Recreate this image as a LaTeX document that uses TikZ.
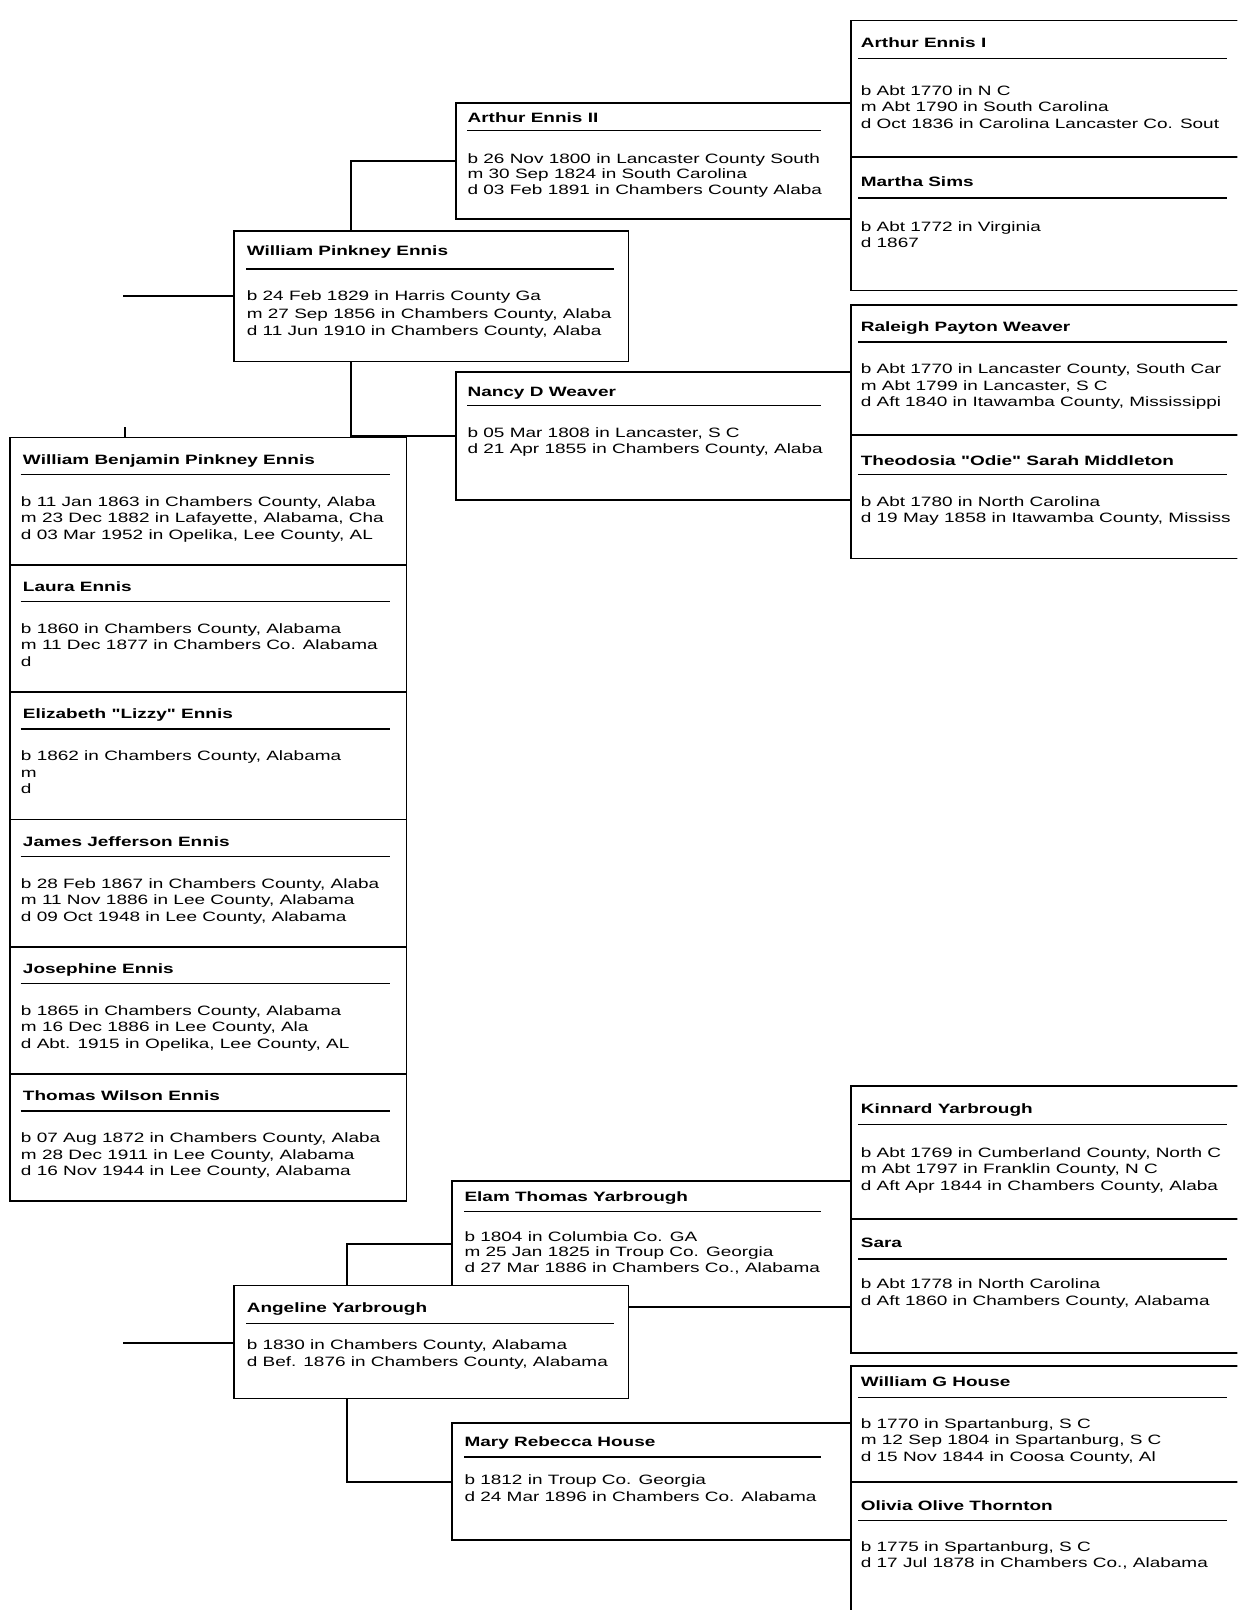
\documentclass[tikz,border=0pt]{standalone}
\usepackage{fontspec}
\setmainfont{Liberation Sans}
\newfontfamily\chartfont[FakeStretch=1.4]{Liberation Sans}
\newcommand{\kidentry}[6]{%
  \node[nm] (#1n) at (22,{#2+26}) {#3};
  \draw[rl] (20,{#2+36}) -- (380,{#2+36});
  \node[tx] (#1b) at (20,{#2+67}) {#4};
  \node[tx] (#1m) at (20,{#2+83}) {#5};
  \node[tx] (#1d) at (20,{#2+99}) {#6};}
\begin{document}
\begin{tikzpicture}[x=0.5pt,y=-0.5pt,
  bl/.style={line width=0.85pt},
  rl/.style={line width=0.75pt},
  nm/.style={font=\chartfont\fontsize{6.6}{8}\selectfont\bfseries, inner sep=0pt, anchor=base west},
  tx/.style={font=\chartfont\fontsize{6.6}{8}\selectfont, inner sep=0pt, anchor=base west},
  frame/.style={inner sep=0pt, outer sep=0pt, anchor=north west, rectangle}]
\useasboundingbox (0,0) rectangle (1205,1568);
\clip (0,0) rectangle (1205,1568);
\fill[white] (0,0) rectangle (1205,1568);

% ---------- box frames ----------
\node[frame, minimum width=192pt, minimum height=63.5pt] (wpe) at (228,225) {};
\node[frame, minimum width=192pt, minimum height=55pt] (ay) at (228,1252) {};
\node[frame, minimum width=193pt, minimum height=372pt] (kids) at (10,426) {};
\node[frame, minimum width=182pt, minimum height=56.5pt] (ae2) at (444,100) {};
\node[frame, minimum width=182pt, minimum height=62.5pt] (nw) at (444,362) {};
\node[frame, minimum width=184pt, minimum height=61.5pt] (ety) at (440,1150) {};
\node[frame, minimum width=184pt, minimum height=57pt] (mrh) at (440,1386) {};
\node[frame, minimum width=200pt, minimum height=66.5pt] (ae1) at (829,20) {};
\node[frame, minimum width=200pt, minimum height=65pt] (ms) at (829,153) {};
\node[frame, minimum width=200pt, minimum height=63.5pt] (rpw) at (829,297) {};
\node[frame, minimum width=200pt, minimum height=60pt] (tom) at (829,424) {};
\node[frame, minimum width=200pt, minimum height=64.5pt] (ky) at (829,1058) {};
\node[frame, minimum width=200pt, minimum height=65.5pt] (sa) at (829,1187) {};
\node[frame, minimum width=200pt, minimum height=56.5pt] (wgh) at (829,1330) {};
\node[frame, minimum width=200pt, minimum height=70pt] (oot) at (829,1443) {};

\draw[bl] (wpe.north west) rectangle (wpe.south east);
\draw[bl] (kids.north west) rectangle (kids.south east);
\foreach \b in {ae2,nw,ety,mrh,ae1,rpw,ky,wgh}
  \draw[bl] (\b.north east) -- (\b.north west) -- (\b.south west) -- (\b.south east);
\foreach \b in {ms,tom,sa,oot}
  \draw[bl] (\b.north west) -- (\b.south west) -- (\b.south east);

% ---------- connectors ----------
\coordinate (r1) at (120,288);
\coordinate (r2) at (120,1308);
\coordinate (t1) at (122,416);
\draw[bl] (r1) -- (r1 -| wpe.west);
\draw[bl] (r2) -- (r2 -| ay.west);
\draw[bl] (t1) -- (t1 |- kids.north);
\draw[bl] ([xshift=57pt]wpe.north west) |- (ae2.west);
\draw[bl] ([xshift=57pt]wpe.south west) |- (nw.west);
\draw[bl] ([xshift=55pt]ay.north west) |- (ety.west);
\draw[bl] ([xshift=55pt]ay.south west) |- (mrh.west);
\draw[bl] (ae2.north east) -- (ae2.north east -| ae1.west);
\draw[bl] (ae2.south east) -- (ae2.south east -| ms.west);
\draw[bl] (nw.north east) -- (nw.north east -| rpw.west);
\draw[bl] (nw.south east) -- (nw.south east -| tom.west);
\draw[bl] (ety.north east) -- (ety.north east -| ky.west);
\draw[bl] (ety.south east) -- (ety.south east -| sa.west);
\draw[bl] (mrh.north east) -- (mrh.north east -| wgh.west);
\draw[bl] (mrh.south east) -- (mrh.south east -| oot.west);

% ---------- William Pinkney Ennis ----------
\begin{scope}
\clip (wpe.north west) rectangle (wpe.south east);
\node[nm] (wpen) at (240,249) {William Pinkney Ennis};
\draw[rl] (240,262) -- (598,262);
\node[tx] (wpeb) at (240,293) {b 24 Feb 1829 in Harris County Ga};
\node[tx] (wpem) at (240,310) {m 27 Sep 1856 in Chambers County, Alaba};
\node[tx] (wped) at (240,327) {d 11 Jun 1910 in Chambers County, Alaba};
\end{scope}

% ---------- generation 2 ----------
\begin{scope}
\clip (ae2.north west) rectangle (ae2.south east);
\node[nm] (ae2n) at (455,119) {Arthur Ennis II};
\draw[rl] (455,127) -- (800,127);
\node[tx] (ae2b) at (455,159) {b 26 Nov 1800 in Lancaster County South};
\node[tx] (ae2m) at (455,174) {m 30 Sep 1824 in South Carolina};
\node[tx] (ae2d) at (455,189) {d 03 Feb 1891 in Chambers County Alaba};
\end{scope}
\begin{scope}
\clip (nw.north west) rectangle (nw.south east);
\node[nm] (nwn) at (455,386) {Nancy D Weaver};
\draw[rl] (455,395) -- (800,395);
\node[tx] (nwb) at (455,426) {b 05 Mar 1808 in Lancaster, S C};
\node[tx] (nwd) at (455,442) {d 21 Apr 1855 in Chambers County, Alaba};
\end{scope}
\begin{scope}
\clip (ety.north west) rectangle (ety.south east);
\node[nm] (etyn) at (452,1170) {Elam Thomas Yarbrough};
\draw[rl] (452,1180) -- (800,1180);
\node[tx] (etyb) at (452,1209) {b 1804 in Columbia Co. GA};
\node[tx] (etym) at (452,1224) {m 25 Jan 1825 in Troup Co. Georgia};
\node[tx] (etyd) at (452,1239) {d 27 Mar 1886 in Chambers Co., Alabama};
\end{scope}
\begin{scope}
\clip (mrh.north west) rectangle (mrh.south east);
\node[nm] (mrhn) at (452,1409) {Mary Rebecca House};
\draw[rl] (452,1419) -- (800,1419);
\node[tx] (mrhb) at (452,1446) {b 1812 in Troup Co. Georgia};
\node[tx] (mrhd) at (452,1462) {d 24 Mar 1896 in Chambers Co. Alabama};
\end{scope}

% ---------- Angeline Yarbrough (drawn over Elam's frame) ----------
\filldraw[bl, fill=white] (ay.north west) rectangle (ay.south east);
\begin{scope}
\clip (ay.north west) rectangle (ay.south east);
\node[nm] (ayn) at (240,1278) {Angeline Yarbrough};
\draw[rl] (240,1289) -- (598,1289);
\node[tx] (ayb) at (240,1314) {b 1830 in Chambers County, Alabama};
\node[tx] (ayd) at (240,1331) {d Bef. 1876 in Chambers County, Alabama};
\end{scope}

% ---------- generation 4 ----------
\node[nm] (ae1n) at (838,46) {Arthur Ennis I};
\draw[rl] (836,57) -- (1195,57);
\node[tx] (ae1b) at (838,93) {b Abt 1770 in N C};
\node[tx] (ae1m) at (838,109) {m Abt 1790 in South Carolina};
\node[tx] (ae1d) at (838,125) {d Oct 1836 in Carolina Lancaster Co. Sout};

\node[nm] (msn) at (838,182) {Martha Sims};
\draw[rl] (836,193) -- (1195,193);
\node[tx] (msb) at (838,225) {b Abt 1772 in Virginia};
\node[tx] (msd) at (838,241) {d 1867};

\node[nm] (rpwn) at (838,323) {Raleigh Payton Weaver};
\draw[rl] (836,333) -- (1195,333);
\node[tx] (rpwb) at (838,364) {b Abt 1770 in Lancaster County, South Car};
\node[tx] (rpwm) at (838,380) {m Abt 1799 in Lancaster, S C};
\node[tx] (rpwd) at (838,396) {d Aft 1840 in Itawamba County, Mississippi};

\node[nm] (tomn) at (838,453) {Theodosia "Odie" Sarah Middleton};
\draw[rl] (836,462) -- (1195,462);
\node[tx] (tomb) at (838,493) {b Abt 1780 in North Carolina};
\node[tx] (tomd) at (838,509) {d 19 May 1858 in Itawamba County, Mississ};

\node[nm] (kyn) at (838,1084) {Kinnard Yarbrough};
\draw[rl] (836,1095) -- (1195,1095);
\node[tx] (kyb) at (838,1127) {b Abt 1769 in Cumberland County, North C};
\node[tx] (kym) at (838,1143) {m Abt 1797 in Franklin County, N C};
\node[tx] (kyd) at (838,1159) {d Aft Apr 1844 in Chambers County, Alaba};

\node[nm] (san) at (838,1215) {Sara};
\draw[rl] (836,1226) -- (1195,1226);
\node[tx] (sab) at (838,1255) {b Abt 1778 in North Carolina};
\node[tx] (sad) at (838,1271) {d Aft 1860 in Chambers County, Alabama};

\node[nm] (wghn) at (838,1350) {William G House};
\draw[rl] (836,1361) -- (1195,1361);
\node[tx] (wghb) at (838,1391) {b 1770 in Spartanburg, S C};
\node[tx] (wghm) at (838,1407) {m 12 Sep 1804 in Spartanburg, S C};
\node[tx] (wghd) at (838,1423) {d 15 Nov 1844 in Coosa County, Al};

\node[nm] (ootn) at (838,1471) {Olivia Olive Thornton};
\draw[rl] (836,1481) -- (1195,1481);
\node[tx] (ootb) at (838,1511) {b 1775 in Spartanburg, S C};
\node[tx] (ootd) at (838,1527) {d 17 Jul 1878 in Chambers Co., Alabama};

% ---------- children ----------
\foreach \t in {550,674,798,922,1046}
  \draw[bl] (kids.west |- 0,\t) -- (kids.east |- 0,\t);
\begin{scope}
\clip (kids.north west) rectangle (kids.south east);
\kidentry{ca}{426}{William Benjamin Pinkney Ennis}{b 11 Jan 1863 in Chambers County, Alaba}{m 23 Dec 1882 in Lafayette, Alabama, Cha}{d 03 Mar 1952 in Opelika, Lee County, AL}
\kidentry{cb}{550}{Laura Ennis}{b 1860 in Chambers County, Alabama}{m 11 Dec 1877 in Chambers Co. Alabama}{d}
\kidentry{cc}{674}{Elizabeth "Lizzy" Ennis}{b 1862 in Chambers County, Alabama}{m}{d}
\kidentry{cd}{798}{James Jefferson Ennis}{b 28 Feb 1867 in Chambers County, Alaba}{m 11 Nov 1886 in Lee County, Alabama}{d 09 Oct 1948 in Lee County, Alabama}
\kidentry{ce}{922}{Josephine Ennis}{b 1865 in Chambers County, Alabama}{m 16 Dec 1886 in Lee County, Ala}{d Abt. 1915 in Opelika, Lee County, AL}
\kidentry{cf}{1046}{Thomas Wilson Ennis}{b 07 Aug 1872 in Chambers County, Alaba}{m 28 Dec 1911 in Lee County, Alabama}{d 16 Nov 1944 in Lee County, Alabama}
\end{scope}
\end{tikzpicture}
\end{document}
